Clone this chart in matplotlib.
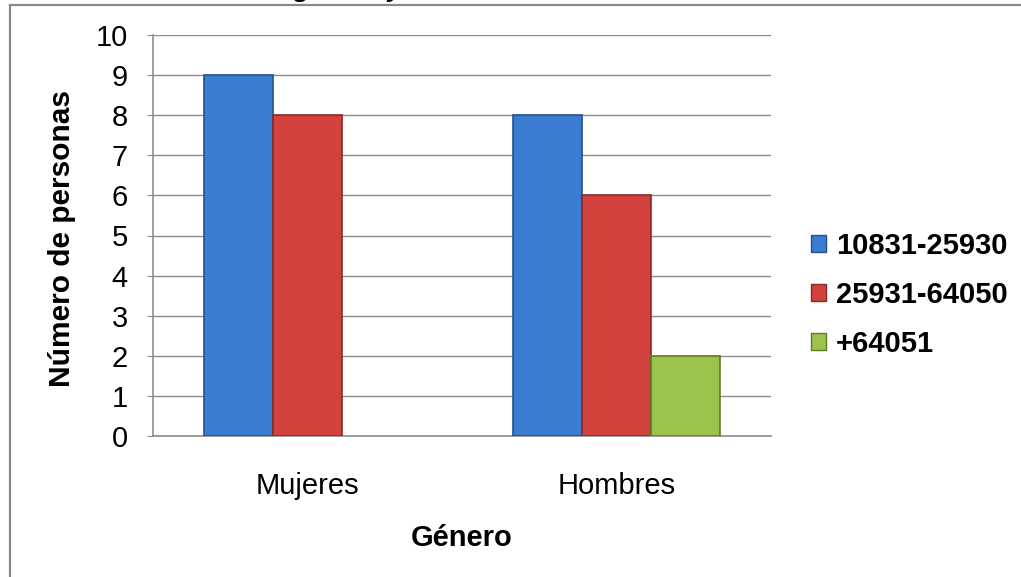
import numpy as np
import matplotlib
matplotlib.use("Agg")
import matplotlib.pyplot as plt
from matplotlib.patches import Patch
from matplotlib.lines import Line2D

plt.rcParams['font.family'] = ['Liberation Sans', 'DejaVu Sans']

# data
categories = ['Mujeres', 'Hombres']
series_names = ['10831-25930', '25931-64050', '+64051']
values = [[9, 8],   # 10831-25930
          [8, 6],   # 25931-64050
          [0, 2]]   # +64051
colors = ['#3b7cd3', '#d2413c', '#9bc34b']
edges = ['#25508c', '#8a2a27', '#5d7a28']
yticks = list(range(0, 11))

fig = plt.figure(figsize=(10.21, 5.77), dpi=100)
ax = fig.add_axes([153/1021, 141/577, 618/1021, 401/577])

x = np.arange(len(categories))
w = 0.224
for i, (name, vals) in enumerate(zip(series_names, values)):
    bars = ax.bar(x + (i - 1) * w, vals, width=w, color=colors[i],
                  edgecolor=edges[i], linewidth=1.2, zorder=3, label=name)
    for b, v in zip(bars, vals):
        if v == 0:
            b.set_visible(False)

ax.set_xlim(-0.5, 1.5)
ax.set_ylim(0, 10)
ax.set_yticks(yticks)
ax.set_xticks(x)
ax.set_xticklabels(categories)
ax.yaxis.grid(True, color='#8c8c8c', linewidth=1.0, zorder=0)
ax.set_axisbelow(True)
for s in ['top', 'right']:
    ax.spines[s].set_visible(False)
for s in ['left', 'bottom']:
    ax.spines[s].set_color('#8c8c8c')
    ax.spines[s].set_linewidth(1.2)
ax.tick_params(axis='y', length=4, color='#8c8c8c', pad=14, labelsize=21)
ax.tick_params(axis='x', length=0, pad=26, labelsize=21)

fig.text(62/1021, 1 - 238/577, 'Número de personas', rotation=90,
         ha='center', va='center', fontsize=21.5, fontweight='bold')
fig.text(462/1021, 1 - 538/577, 'Género', ha='center', va='center',
         fontsize=21, fontweight='bold')

# title, mostly cut off above the picture
fig.text(162/1021, 1 + 3/577, 'Nivel de ingresos y sexo', ha='left',
         va='baseline', fontsize=19, fontweight='bold', fontstyle='italic')

handles = [Patch(facecolor=c, edgecolor=e) for c, e in zip(colors, edges)]
fig.legend(handles, series_names, loc='center left',
           bbox_to_anchor=(811/1021, 1 - 295/577), frameon=False,
           prop={'size': 21, 'weight': 'bold'}, handlelength=0.5,
           handleheight=0.5, handletextpad=0.35, labelspacing=0.72,
           borderaxespad=0, borderpad=0)

# outer border of the chart area
fig.add_artist(Line2D([10/1021, 1], [1 - 5/577, 1 - 5/577],
                      transform=fig.transFigure, color='#8a8a8a', lw=1.6))
fig.add_artist(Line2D([10/1021, 10/1021], [0, 1 - 5/577],
                      transform=fig.transFigure, color='#8a8a8a', lw=1.6))

fig.savefig('out.png', dpi=100)
